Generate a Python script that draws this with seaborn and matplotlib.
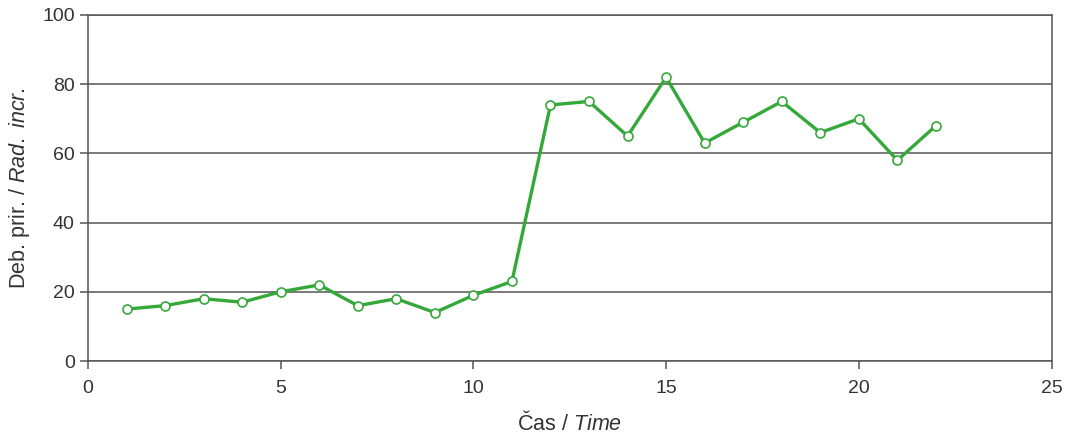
import matplotlib
matplotlib.use("Agg")
import matplotlib.pyplot as plt
import seaborn as sns
import pandas as pd

time = list(range(1, 23))
values = [15, 16, 18, 17, 20, 22, 16, 18, 14, 19, 23, 74, 75, 65, 82, 63, 69, 75, 66, 70, 58, 68]
x_ticks = [0, 5, 10, 15, 20, 25]
y_ticks = [0, 20, 40, 60, 80, 100]

sns.set_theme(style="white")
plt.rcParams['font.family'] = ['Liberation Sans', 'DejaVu Sans']
plt.rcParams['mathtext.fontset'] = 'custom'
plt.rcParams['mathtext.rm'] = 'Liberation Sans'
plt.rcParams['mathtext.it'] = 'Liberation Sans:italic'

df = pd.DataFrame({"time": time, "value": values})

fig = plt.figure(figsize=(10.73, 4.4), dpi=100)
ax = fig.add_axes([0.082, 0.1795, 0.898, 0.7865])

sns.lineplot(data=df, x="time", y="value", ax=ax, color="#35a83a", linewidth=2.4,
             marker="o", markersize=6.5, markerfacecolor="white",
             markeredgecolor="#35a83a", markeredgewidth=1.2, zorder=3)

ax.set_xlim(0, 25)
ax.set_ylim(0, 100)
ax.set_xticks(x_ticks)
ax.set_yticks(y_ticks)
ax.yaxis.grid(True, color="#555555", linewidth=1.1)
ax.set_axisbelow(True)
for s in ax.spines.values():
    s.set_color("#555555")
    s.set_linewidth(1.1)
ax.tick_params(axis="both", which="major", length=6, width=1.1, color="#555555",
               labelsize=14, labelcolor="#333333", direction="out", bottom=True, left=True)
ax.tick_params(axis="x", pad=8)
ax.set_xlabel(r"Čas / $\it{Time}$", fontsize=15.5, color="#333333", labelpad=10)
ax.set_ylabel(r"Deb. prir. / $\it{Rad.\ incr.}$", fontsize=15.5, color="#333333", labelpad=7)

fig.savefig("out.png", dpi=100)
